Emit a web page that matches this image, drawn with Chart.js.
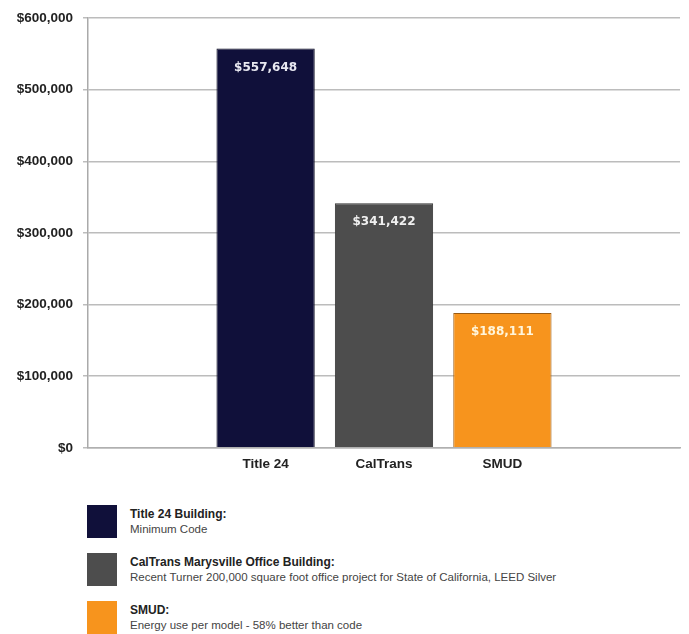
<!DOCTYPE html>
<html lang="en">
	<head>
		<meta charset="UTF-8" />
		<title>Annual Energy Cost</title>
		<script src="https://cdn.jsdelivr.net/npm/chart.js@4/dist/chart.umd.min.js"></script>
		<style>
			body {
				margin: 0;
				background: #fff;
				font-family: 'Liberation Sans', Arial, sans-serif;
			}
			.chart-container {
				position: relative;
				width: 689px;
				height: 472px;
			}
			.legend {
				position: absolute;
				left: 87px;
				top: 505px;
			}
			.legend-item {
				display: flex;
				align-items: flex-start;
				height: 48px;
			}
			.legend-swatch {
				width: 30px;
				height: 33px;
				margin-right: 13px;
			}
			.legend-title {
				font-weight: bold;
				font-size: 12px;
				color: #222;
				margin-top: 2px;
			}
			.legend-desc {
				font-size: 11.5px;
				color: #444;
				margin-top: 2px;
			}
		</style>
	</head>
	<body>
		<div class="chart-container">
			<canvas id="cost-chart"></canvas>
		</div>
		<div class="legend" id="legend"></div>

		<script>
			// Categories (empty slots keep the bars centred like the original)
			const categories = ['', 'Title 24', 'CalTrans', 'SMUD', '']
			const costs = [null, 557648, 341422, 188111, null]
			const barColors = ['#10103a', '#10103a', '#4d4d4d', '#f7941d', '#4d4d4d']
			const barBorders = ['#08081e', '#08081e', '#333333', '#9a5a12', '#333333']
			const labelColors = ['#fff', '#e8e8f0', '#f0f0f0', '#fff6dc', '#fff']
			const yTicks = [0, 100000, 200000, 300000, 400000, 500000, 600000]

			// Legend entries
			const legendTitles = ['Title 24 Building:', 'CalTrans Marysville Office Building:', 'SMUD:']
			const legendDescs = [
				'Minimum Code',
				'Recent Turner 200,000 square foot office project for State of California, LEED Silver',
				'Energy use per model - 58% better than code',
			]
			const legendColors = ['#10103a', '#4d4d4d', '#f7941d']

			function money(v) {
				return '$' + Number(v).toLocaleString('en-US')
			}

			// Draw the value inside the top of each bar
			const valueLabels = {
				id: 'valueLabels',
				afterDatasetsDraw(chart) {
					const ctx = chart.ctx
					const meta = chart.getDatasetMeta(0)
					ctx.save()
					ctx.font = 'bold 12px "DejaVu Sans", Verdana, sans-serif'
					ctx.textAlign = 'center'
					ctx.textBaseline = 'middle'
					meta.data.forEach((bar, i) => {
						if (costs[i] == null) return
						ctx.fillStyle = labelColors[i]
						ctx.fillText(money(costs[i]), bar.x, bar.y + 19)
					})
					ctx.restore()
				},
			}

			const ctx = document.getElementById('cost-chart').getContext('2d')
			new Chart(ctx, {
				type: 'bar',
				data: {
					labels: categories,
					datasets: [
						{
							data: costs,
							backgroundColor: barColors,
							borderColor: barBorders,
							borderWidth: 1,
							barPercentage: 0.83,
							categoryPercentage: 1,
						},
					],
				},
				options: {
					responsive: true,
					maintainAspectRatio: false,
					animation: false,
					layout: {
						padding: { top: 5, right: 9, left: 8, bottom: 0 },
					},
					plugins: {
						legend: { display: false },
						tooltip: { enabled: false },
					},
					scales: {
						x: {
							grid: { display: false },
							border: { color: '#b0b0b0', width: 1.5 },
							ticks: {
								color: '#222',
								font: { family: '"Liberation Sans", Arial', size: 13.5, weight: 'bold' },
								padding: 0,
							},
						},
						y: {
							min: 0,
							max: 600000,
							afterBuildTicks: scale => {
								scale.ticks = yTicks.map(v => ({ value: v }))
							},
							afterFit: scale => {
								scale.width = 80
							},
							grid: {
								color: '#bcbcbc',
								lineWidth: 1.5,
								tickLength: 5,
							},
							border: { color: '#aaa', width: 1.5 },
							ticks: {
								color: '#222',
								padding: 10,
								font: { family: '"Liberation Sans", Arial', size: 13.5, weight: 'bold' },
								callback: v => money(v),
							},
						},
					},
				},
				plugins: [valueLabels],
			})

			// Build the legend below the chart
			const legend = document.getElementById('legend')
			legendTitles.forEach((title, i) => {
				legend.innerHTML += `<div class="legend-item">
					<div class="legend-swatch" style="background:${legendColors[i]}"></div>
					<div>
						<div class="legend-title">${title}</div>
						<div class="legend-desc">${legendDescs[i]}</div>
					</div>
				</div>`
			})
		</script>
	</body>
</html>
